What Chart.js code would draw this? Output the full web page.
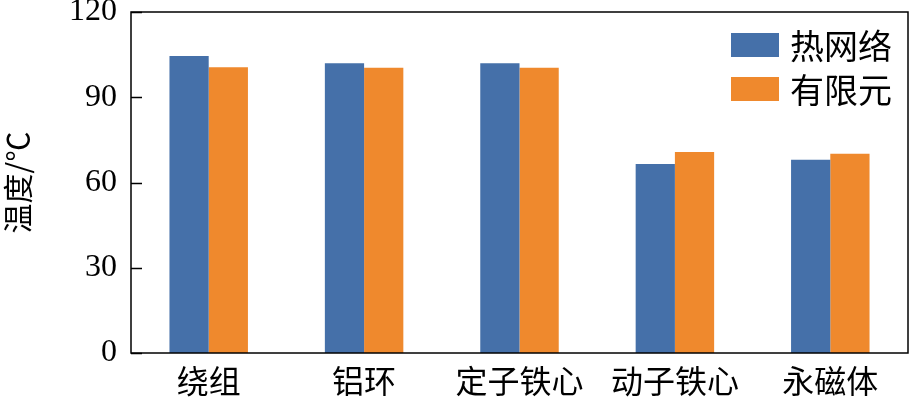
<!DOCTYPE html>
<html>
<head>
<meta charset="utf-8">
<script src="https://cdn.jsdelivr.net/npm/chart.js@4/dist/chart.umd.min.js"></script>
<style>
html,body{margin:0;padding:0;background:#fff;}
#wrap{width:911px;height:401px;}
</style>
</head>
<body>
<div id="wrap"><canvas id="c" width="911" height="401"></canvas></div>
<script>
const categories = ['绕组', '铝环', '定子铁心', '动子铁心', '永磁体'];
const seriesNames = ['热网络', '有限元'];
const thermalNetwork = [104.5, 102.0, 102.0, 66.5, 68.0];
const finiteElement = [100.6, 100.4, 100.4, 70.7, 70.1];
const yTicks = [0, 30, 60, 90, 120];
const yTitle = '温度/℃';

const BLUE = '#4570a9';
const ORANGE = '#ef892d';
const CJK = '"Noto Sans CJK SC", sans-serif';
const SERIF = '"Liberation Serif", "DejaVu Serif", serif';

const framePlugin = {
  id: 'frame',
  afterDraw(chart) {
    const {ctx, chartArea: a} = chart;
    const ys = chart.scales.y;
    ctx.save();
    ctx.strokeStyle = '#000';
    ctx.lineWidth = 1.5;
    ctx.strokeRect(a.left, a.top, a.right - a.left, a.bottom - a.top);
    // inward tick marks on the value axis
    ctx.beginPath();
    ys.ticks.forEach(t => {
      const py = Math.round(ys.getPixelForValue(t.value)) + 0.5;
      ctx.moveTo(a.left, py);
      ctx.lineTo(a.left + 11, py);
    });
    ctx.stroke();
    // legend inside the plot area
    const ds = chart.data.datasets;
    const boxW = 48, boxH = 24;
    const x0 = a.right - 177;
    const y0 = a.top + 21;
    ctx.font = '34px ' + CJK;
    ctx.textBaseline = 'middle';
    ctx.textAlign = 'left';
    ds.forEach((d, i) => {
      const y = y0 + i * 44;
      ctx.fillStyle = d.backgroundColor;
      ctx.fillRect(x0, y, boxW, boxH);
      ctx.fillStyle = '#000';
      ctx.fillText(d.label, x0 + boxW + 11, y + boxH / 2 + 1);
    });
    ctx.restore();
  }
};

new Chart(document.getElementById('c'), {
  type: 'bar',
  data: {
    labels: categories,
    datasets: [
      {label: seriesNames[0], data: thermalNetwork, backgroundColor: BLUE, borderWidth: 0},
      {label: seriesNames[1], data: finiteElement, backgroundColor: ORANGE, borderWidth: 0}
    ]
  },
  options: {
    responsive: false,
    animation: false,
    devicePixelRatio: 1,
    layout: {padding: {left: 0, right: 3, top: 12, bottom: 0}},
    plugins: {legend: {display: false}, tooltip: {enabled: false}},
    datasets: {bar: {categoryPercentage: 0.505, barPercentage: 1.0}},
    scales: {
      x: {
        grid: {display: false, drawTicks: false},
        border: {display: false},
        ticks: {
          color: '#000',
          font: {family: CJK, size: 32},
          padding: 9,
          maxRotation: 0,
          autoSkip: false
        },
        afterFit(s) { s.height = 48; s.paddingLeft = 0; s.paddingRight = 0; }
      },
      y: {
        min: 0,
        max: 120,
        afterBuildTicks(s) { s.ticks = yTicks.map(v => ({value: v})); },
        ticks: {
          color: '#000',
          font: {family: SERIF, size: 32},
          padding: 14
        },
        grid: {display: false, drawTicks: false},
        border: {display: false},
        title: {
          display: true,
          text: yTitle,
          color: '#000',
          font: {family: CJK, size: 30},
          padding: {top: 0, bottom: 0}
        },
        afterFit(s) { s.width = 131; s.paddingTop = 0; s.paddingBottom = 0; }
      }
    }
  },
  plugins: [framePlugin]
});
</script>
</body>
</html>
